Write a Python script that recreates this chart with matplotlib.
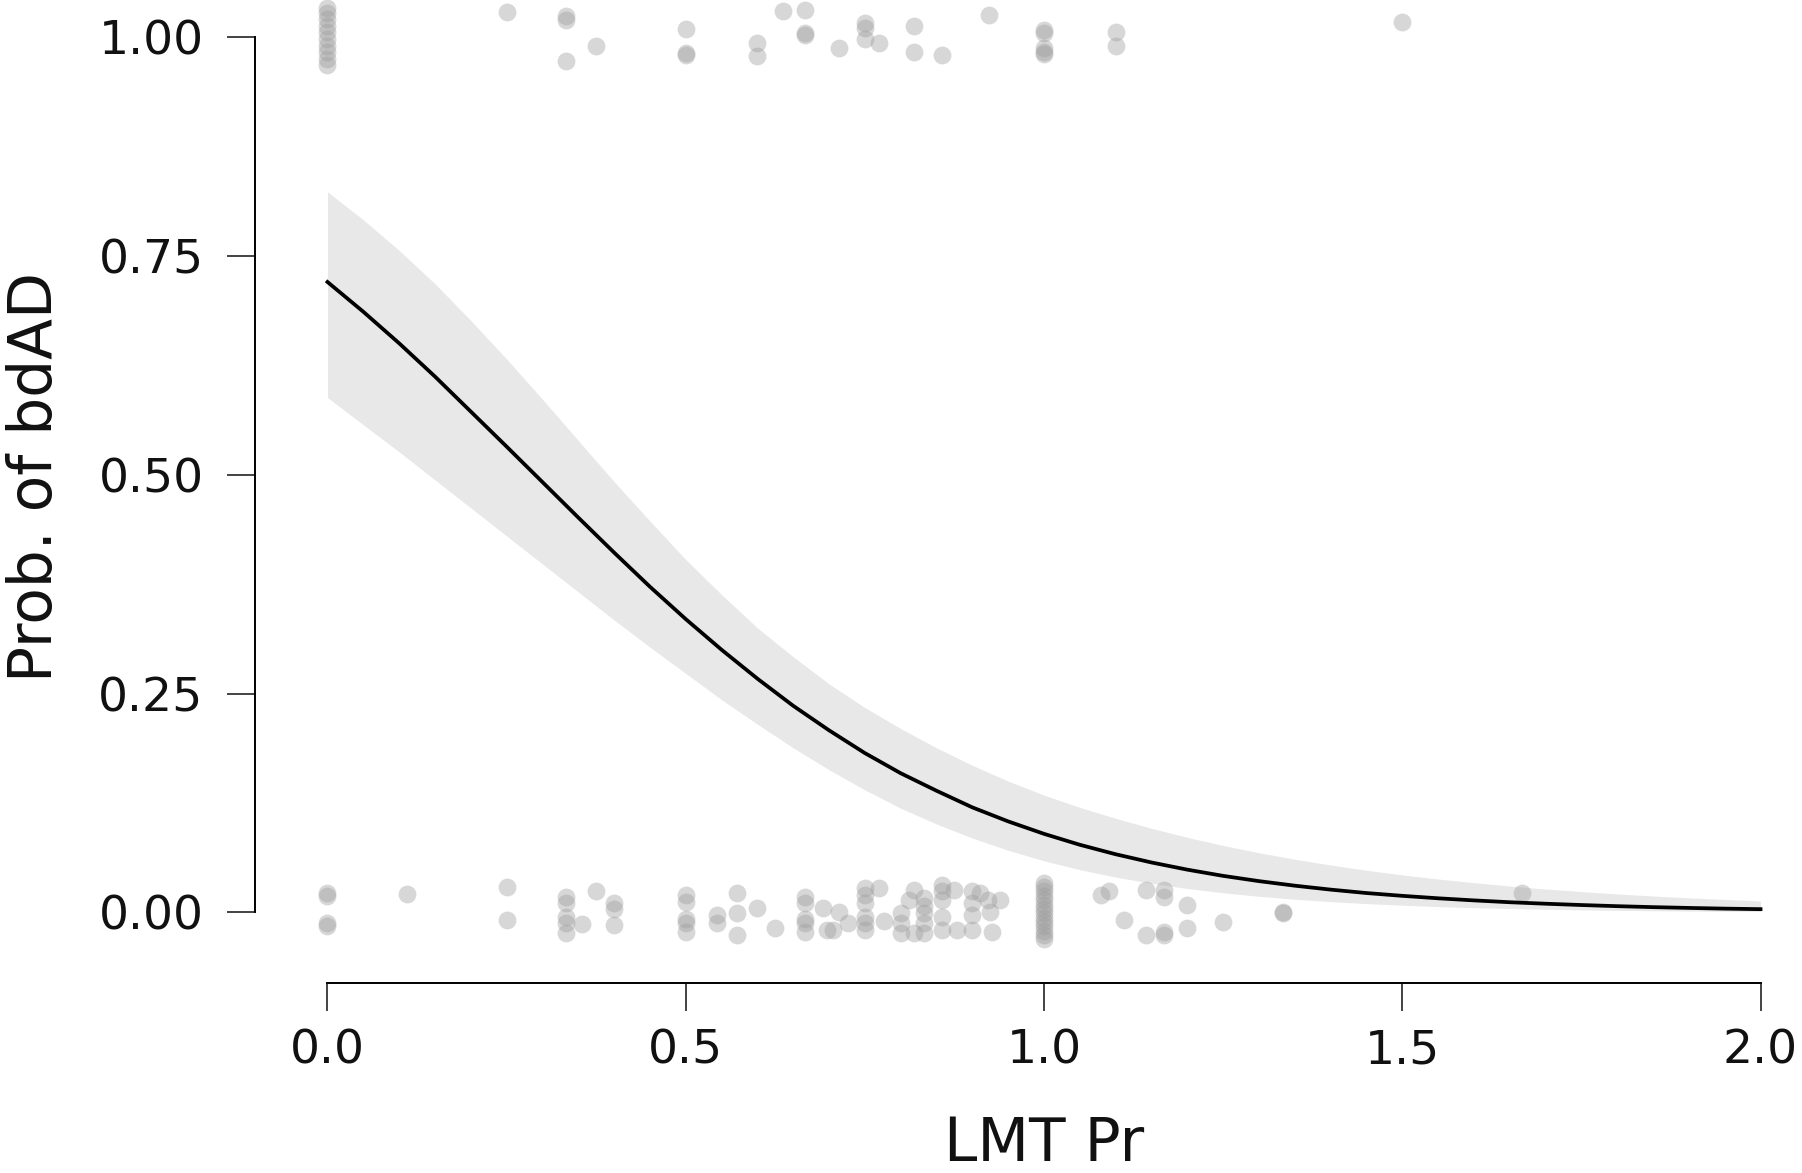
import matplotlib
matplotlib.use('Agg')
import matplotlib.pyplot as plt
import matplotlib.transforms as mtransforms

# fitted curve with its confidence band
grid_x = [0.00, 0.05, 0.10, 0.15, 0.20, 0.25, 0.30, 0.35, 0.40, 0.45,
          0.50, 0.55, 0.60, 0.65, 0.70, 0.75, 0.80, 0.85, 0.90, 0.95,
          1.00, 1.05, 1.10, 1.15, 1.20, 1.25, 1.30, 1.35, 1.40, 1.45,
          1.50, 1.55, 1.60, 1.65, 1.70, 1.75, 1.80, 1.85, 1.90, 1.95, 2.00]
fit_p = [0.720, 0.686, 0.650, 0.612, 0.572, 0.532, 0.4915, 0.451, 0.411, 0.372,
         0.335, 0.300, 0.267, 0.236, 0.208, 0.182, 0.159, 0.139, 0.120, 0.104,
         0.0898, 0.0773, 0.0665, 0.0571, 0.0489, 0.0418, 0.0358, 0.0306, 0.0261, 0.0222,
         0.0190, 0.0162, 0.0138, 0.0117, 0.0100, 0.0085, 0.0072, 0.0061, 0.0052, 0.0044, 0.0038]
upper_p = [0.823, 0.791, 0.756, 0.718, 0.676, 0.632, 0.586, 0.539, 0.492, 0.447,
           0.403, 0.363, 0.325, 0.292, 0.261, 0.234, 0.210, 0.188, 0.168, 0.150,
           0.134, 0.120, 0.1075, 0.0961, 0.0858, 0.0765, 0.0682, 0.0608, 0.0542, 0.0482,
           0.0429, 0.0382, 0.0340, 0.0302, 0.0268, 0.0239, 0.0212, 0.0188, 0.0167, 0.0149, 0.0132]
lower_p = [0.588, 0.557, 0.526, 0.494, 0.462, 0.430, 0.398, 0.366, 0.334, 0.303,
           0.273, 0.243, 0.215, 0.188, 0.163, 0.140, 0.119, 0.101, 0.085, 0.071,
           0.059, 0.0489, 0.0404, 0.0333, 0.0274, 0.0225, 0.0185, 0.0151, 0.0124, 0.0101,
           0.0083, 0.0067, 0.0055, 0.0045, 0.0037, 0.0030, 0.0024, 0.0020, 0.0016, 0.0013, 0.0011]

# observations with bdAD = 1 (vertically jittered)
yes_x = [0, 0, 0, 0, 0, 0, 0, 0, 0, 0,
         0.25, 0.333, 0.333, 0.333, 0.375, 0.5, 0.5, 0.5, 0.6, 0.6,
         0.636, 0.667, 0.667, 0.667, 0.714, 0.75, 0.75, 0.75, 0.769, 0.818,
         0.818, 0.857, 0.923, 1.0, 1.0, 1.0, 1.0, 1.0, 1.1, 1.1, 1.5]
yes_y = [1.033, 1.027, 1.020, 1.012, 1.005, 0.998, 0.990, 0.983, 0.975, 0.968,
         1.028, 1.024, 1.019, 0.972, 0.989, 1.009, 0.981, 0.979, 0.993, 0.978,
         1.029, 1.031, 1.004, 1.002, 0.987, 1.016, 1.010, 0.997, 0.993, 1.012,
         0.983, 0.979, 1.025, 1.008, 1.004, 0.987, 0.983, 0.980, 1.006, 0.989, 1.017]

# observations with bdAD = 0 (vertically jittered)
no_x = [0, 0, 0, 0, 0.111, 0.25, 0.25,
        0.333, 0.333, 0.333, 0.333, 0.333, 0.355, 0.375, 0.4, 0.4, 0.4,
        0.5, 0.5, 0.5, 0.5, 0.5, 0.543, 0.543, 0.571, 0.571, 0.571, 0.6, 0.625,
        0.667, 0.667, 0.667, 0.667, 0.667, 0.692, 0.697, 0.706, 0.714, 0.727,
        0.75, 0.75, 0.75, 0.75, 0.75, 0.75, 0.769, 0.776,
        0.8, 0.8, 0.8, 0.811, 0.818, 0.818,
        0.833, 0.833, 0.833, 0.833, 0.833,
        0.857, 0.857, 0.857, 0.857, 0.857, 0.875, 0.878,
        0.9, 0.9, 0.9, 0.9, 0.911, 0.922, 0.925, 0.927, 0.939,
        1.0, 1.0, 1.0, 1.0, 1.0, 1.0, 1.0, 1.0, 1.0, 1.0, 1.0, 1.0, 1.0, 1.0,
        1.08, 1.09, 1.111, 1.143, 1.143, 1.167, 1.167, 1.167, 1.167,
        1.2, 1.2, 1.25, 1.333, 1.333, 1.667]
no_y = [0.022, 0.019, -0.012, -0.016, 0.021, 0.029, -0.009,
        0.018, 0.011, -0.005, -0.012, -0.023, -0.013, 0.024, 0.011, 0.004, -0.014,
        0.020, 0.012, -0.007, -0.012, -0.022, -0.003, -0.012, 0.022, -0.001, -0.026, 0.005, -0.018,
        0.018, 0.011, -0.007, -0.012, -0.022, 0.005, -0.020, -0.020, 0.001, -0.012,
        0.028, 0.020, 0.011, -0.005, -0.012, -0.020, 0.028, -0.010,
        -0.001, -0.012, -0.024, 0.014, 0.026, -0.024,
        0.016, 0.007, -0.001, -0.012, -0.024,
        0.031, 0.024, 0.014, -0.005, -0.020, 0.026, -0.020,
        0.024, 0.011, -0.003, -0.020, 0.022, 0.014, 0.001, -0.022, 0.014,
        0.034, 0.029, 0.024, 0.019, 0.014, 0.009, 0.004, -0.001, -0.006, -0.011, -0.016, -0.021, -0.026, -0.030,
        0.020, 0.025, -0.009, 0.026, -0.026, 0.026, 0.018, -0.022, -0.026,
        0.009, -0.018, -0.011, 0.001, -0.001, 0.022]

x_ticks = [0.0, 0.5, 1.0, 1.5, 2.0]
x_ticklabels = ['0.0', '0.5', '1.0', '1.5', '2.0']
y_ticks = [0.00, 0.25, 0.50, 0.75, 1.00]
y_ticklabels = ['0.00', '0.25', '0.50', '0.75', '1.00']

plt.rcParams['font.family'] = ['DejaVu Sans']

fig = plt.figure(figsize=(18.02, 11.73), dpi=100)
ax = fig.add_axes([0.1415, 0.1623, 0.8518, 0.8377])
ax.set_xlim(-0.1012, 2.041)
ax.set_ylim(-0.0801, 1.042)

ax.fill_between(grid_x, lower_p, upper_p, color='#e8e8e8', linewidth=0, zorder=1)
ax.scatter(no_x, no_y, s=165, color='#9c9c9c', alpha=0.4, linewidths=0, zorder=2, clip_on=False)
ax.scatter(yes_x, yes_y, s=165, color='#9c9c9c', alpha=0.4, linewidths=0, zorder=2, clip_on=False)
ax.plot(grid_x, fit_p, color='black', linewidth=2.7, zorder=3, solid_joinstyle='round')

# R-style detached axes
for side in ['top', 'right']:
    ax.spines[side].set_visible(False)
ax.spines['left'].set_bounds(0, 1)
ax.spines['bottom'].set_bounds(0, 2)
ax.spines['left'].set_linewidth(1.4)
ax.spines['bottom'].set_linewidth(1.4)

ax.set_xticks(x_ticks)
ax.set_xticklabels(x_ticklabels)
ax.set_yticks(y_ticks)
ax.set_yticklabels(y_ticklabels)
ax.tick_params(axis='both', direction='out', length=20, width=1.1, labelsize=34, colors='#111111')
ax.tick_params(axis='y', pad=17)
ax.tick_params(axis='x', pad=13)

fig.text(0.0289, 0.593, 'Prob. of bdAD', rotation=90, rotation_mode='anchor',
         ha='center', va='baseline', fontsize=43, color='#111111')
trans = mtransforms.blended_transform_factory(ax.transData, fig.transFigure)
ax.text(1.0, 0.010, 'LMT Pr', transform=trans, ha='center', va='baseline',
        fontsize=43, color='#111111')

fig.savefig('out.png', dpi=100)
